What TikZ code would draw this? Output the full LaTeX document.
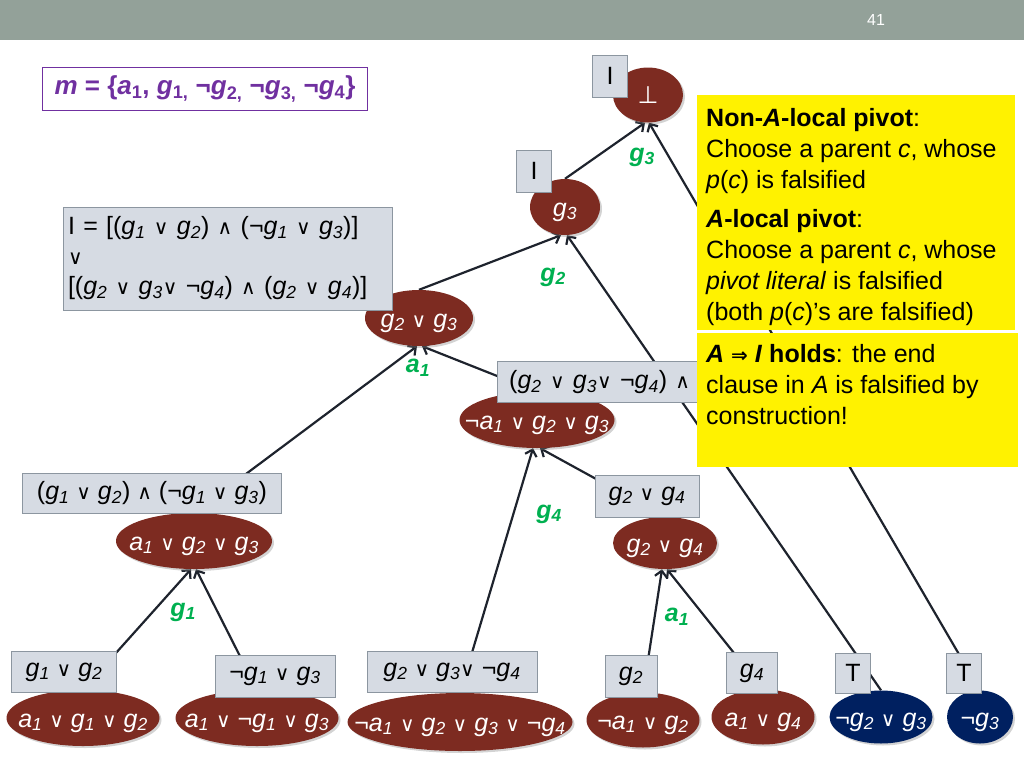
\documentclass[tikz,border=0pt]{standalone}
\usepackage{fontspec}
\setmainfont{Liberation Sans}
\newfontfamily\symf[Scale=0.8]{DejaVu Sans}
\usetikzlibrary{shapes.geometric,arrows.meta,backgrounds,shadows}

\definecolor{barc}{RGB}{147,161,153}
\definecolor{brownc}{RGB}{125,43,33}
\definecolor{bluec}{RGB}{0,32,96}
\definecolor{boxfill}{RGB}{214,219,227}
\definecolor{boxdraw}{RGB}{140,150,160}
\definecolor{greenc}{RGB}{0,176,80}
\definecolor{purplec}{RGB}{112,48,160}
\definecolor{edgec}{RGB}{30,35,45}

\newcommand{\lv}[2]{\textit{#1}\textsubscript{\textit{#2}}}
\newcommand{\vo}{{\symf\upshape ∨}}
\newcommand{\va}{{\symf\upshape ∧}}
\newcommand{\ct}[1]{\raisebox{-9pt}[0pt][0pt]{\makebox[0pt]{#1}}}

\begin{document}
\begin{tikzpicture}[x=1pt,y=-1pt,
  clause/.style={ellipse,fill=brownc,text=white,inner sep=0pt,minimum height=56pt,
    font=\fontsize{25}{29}\selectfont,
    drop shadow={shadow xshift=2pt,shadow yshift=-2pt,opacity=0.35}},
  bclause/.style={clause,fill=bluec},
  lbl/.style={rectangle,draw=boxdraw,fill=boxfill,text=black,inner sep=2pt,
    font=\fontsize{25}{29}\selectfont},
  note/.style={rectangle,fill=yellow,inner sep=0pt},
  notetext/.style={align=left,inner sep=0pt,text=black,font=\fontsize{25}{31}\selectfont},
  edgelbl/.style={text=greenc,font=\fontsize{25}{29}\selectfont\bfseries},
  edge/.style={draw=edgec,line width=2.2pt,-{Straight Barb[length=6pt,width=12pt]}}]
  \useasboundingbox (0,0) rectangle (1024,768);
  \fill[barc] (0,0) rectangle (1024,40);
  \node[text=white,font=\fontsize{16}{18}\selectfont] (pg) at (876,20) {41};

  \node[draw=purplec,line width=1pt,text=purplec,minimum width=325,minimum height=43,
    font=\fontsize{26}{30}\selectfont\bfseries] (m) at (205,89)
    {\textit{m} = \{\textit{a}\textsubscript{1}, \textit{g}\textsubscript{1,} ¬\textit{g}\textsubscript{2,} ¬\textit{g}\textsubscript{3,} ¬\textit{g}\textsubscript{4}\}};

  \node[clause,minimum width=70,minimum height=55] (bot) at (648,95) {\ct{\fontsize{30}{30}\symf ⊥}};
  \node[clause,minimum width=70] (c3) at (565,207) {\ct{\lv{g}{3}}};
  \node[clause,minimum width=108] (c23) at (419,318) {\ct{\lv{g}{2} \vo{} \lv{g}{3}}};
  \node[clause,minimum width=155] (na23) at (537,420) {\ct{¬\lv{a}{1} \vo{} \lv{g}{2} \vo{} \lv{g}{3}}};
  \node[clause,minimum width=156] (a23) at (194,541) {\ct{\lv{a}{1} \vo{} \lv{g}{2} \vo{} \lv{g}{3}}};
  \node[clause,minimum width=104,minimum height=52] (c24) at (665,543) {\ct{\lv{g}{2} \vo{} \lv{g}{4}}};
  \node[clause,minimum width=153] (a12) at (83,718) {\ct{\lv{a}{1} \vo{} \lv{g}{1} \vo{} \lv{g}{2}}};
  \node[clause,minimum width=163] (an13) at (257,718) {\ct{\lv{a}{1} \vo{} ¬\lv{g}{1} \vo{} \lv{g}{3}}};
  \node[clause,minimum width=225,minimum height=58] (na234) at (460,722) {\ct{¬\lv{a}{1} \vo{} \lv{g}{2} \vo{} \lv{g}{3} \vo{} ¬\lv{g}{4}}};
  \node[clause,minimum width=113,minimum height=55] (na2) at (643,720) {\ct{¬\lv{a}{1} \vo{} \lv{g}{2}}};
  \node[clause,minimum width=103,minimum height=55] (a4) at (763,717) {\ct{\lv{a}{1} \vo{} \lv{g}{4}}};
  \node[bclause,minimum width=103,minimum height=53] (n23) at (881,717) {\ct{¬\lv{g}{2} \vo{} \lv{g}{3}}};
  \node[bclause,minimum width=66,minimum height=53] (n3) at (980,717) {\ct{¬\lv{g}{3}}};

  \node[lbl,minimum width=35,minimum height=42] (ib) at (610,76) {I};
  \node[lbl,minimum width=35,minimum height=42] (ia) at (534,171) {I};
  \node[lbl,align=left,text width=319pt,inner xsep=5pt,minimum height=103,
    font=\fontsize{25}{30}\selectfont] (inv) at (227.5,258.5)
    {I = [(\lv{g}{1} \vo{} \lv{g}{2}) \va{} (¬\lv{g}{1} \vo{} \lv{g}{3})]\\ \vo\\
     {[}(\lv{g}{2} \vo{} \lv{g}{3}\vo{} ¬\lv{g}{4}) \va{} (\lv{g}{2} \vo{} \lv{g}{4})]};
  \node[lbl,anchor=west,align=left,text width=236pt,inner xsep=12pt,minimum height=41] (r1) at (497,382)
    {(\lv{g}{2} \vo{} \lv{g}{3}\vo{} ¬\lv{g}{4}) \va};
  \node[lbl,minimum width=259,minimum height=40] (r2) at (152,493)
    {(\lv{g}{1} \vo{} \lv{g}{2}) \va{} (¬\lv{g}{1} \vo{} \lv{g}{3})};
  \node[lbl,minimum width=104,minimum height=42] (r3) at (647,496) {\lv{g}{2} \vo{} \lv{g}{4}};
  \node[lbl,minimum width=105,minimum height=41] (b12) at (64,672) {\lv{g}{1} \vo{} \lv{g}{2}};
  \node[lbl,minimum width=120,minimum height=42] (bn13) at (275,676) {¬\lv{g}{1} \vo{} \lv{g}{3}};
  \node[lbl,minimum width=170,minimum height=41] (b234) at (452,672) {\lv{g}{2} \vo{} \lv{g}{3}\vo{} ¬\lv{g}{4}};
  \node[lbl,minimum width=52,minimum height=42] (b2) at (631,676) {\lv{g}{2}};
  \node[lbl,minimum width=51,minimum height=41] (b4) at (752,673) {\lv{g}{4}};
  \node[lbl,minimum width=35,minimum height=40] (t1) at (853,673) {T};
  \node[lbl,minimum width=35,minimum height=40] (t2) at (964,673) {T};

  \node[note,minimum width=318,minimum height=235,anchor=north west] (nA) at (697,95) {};
  \node[note,minimum width=321,minimum height=134,anchor=north west] (nB) at (697,333) {};
  \node[notetext,anchor=north west] (tA) at (706,108)
    {\textbf{Non-\textit{A}-local pivot}:\\ Choose a parent \textit{c}, whose\\ \textit{p}(\textit{c}) is falsified\\[8pt]
     \textbf{\textit{A}-local pivot}:\\ Choose a parent \textit{c}, whose\\ \textit{pivot literal} is falsified\\
     (both \textit{p}(\textit{c})’s are falsified)};
  \node[notetext,anchor=north west] (tB) at (706,344)
    {\textbf{\textit{A} {\symf ⇒} \textit{I} holds}: the end\\ clause in \textit{A} is falsified by\\ construction!};

  \node[edgelbl] (l1) at (642,157) {\lv{g}{3}};
  \node[edgelbl] (l2) at (553,277) {\lv{g}{2}};
  \node[edgelbl] (l3) at (418,368) {\lv{a}{1}};
  \node[edgelbl] (l4) at (549,514) {\lv{g}{4}};
  \node[edgelbl] (l5) at (183,612) {\lv{g}{1}};
  \node[edgelbl] (l6) at (677,617) {\lv{a}{1}};

  \begin{scope}[on background layer]
    \draw[edge] (c3.north) -- ([xshift=-3pt]bot.south);
    \draw[edge] (n3.north) -- ([xshift=1pt]bot.south);
    \draw[edge] (c23.north) -- ([xshift=-4pt]c3.south);
    \draw[edge] (n23.north) -- ([xshift=2pt]c3.south);
    \draw[edge] (a23.north) -- ([xshift=-2pt]c23.south);
    \draw[edge] (na23.north) -- ([xshift=3pt]c23.south);
    \draw[edge] (na234.north) -- ([xshift=-4pt]na23.south);
    \draw[edge] (c24.north) -- ([xshift=3pt]na23.south);
    \draw[edge] (a12.north) -- ([xshift=-3pt]a23.south);
    \draw[edge] (an13.north) -- ([xshift=2pt]a23.south);
    \draw[edge] (na2.north) -- ([xshift=-3pt]c24.south);
    \draw[edge] (a4.north) -- ([xshift=2pt]c24.south);
  \end{scope}
\end{tikzpicture}
\end{document}
